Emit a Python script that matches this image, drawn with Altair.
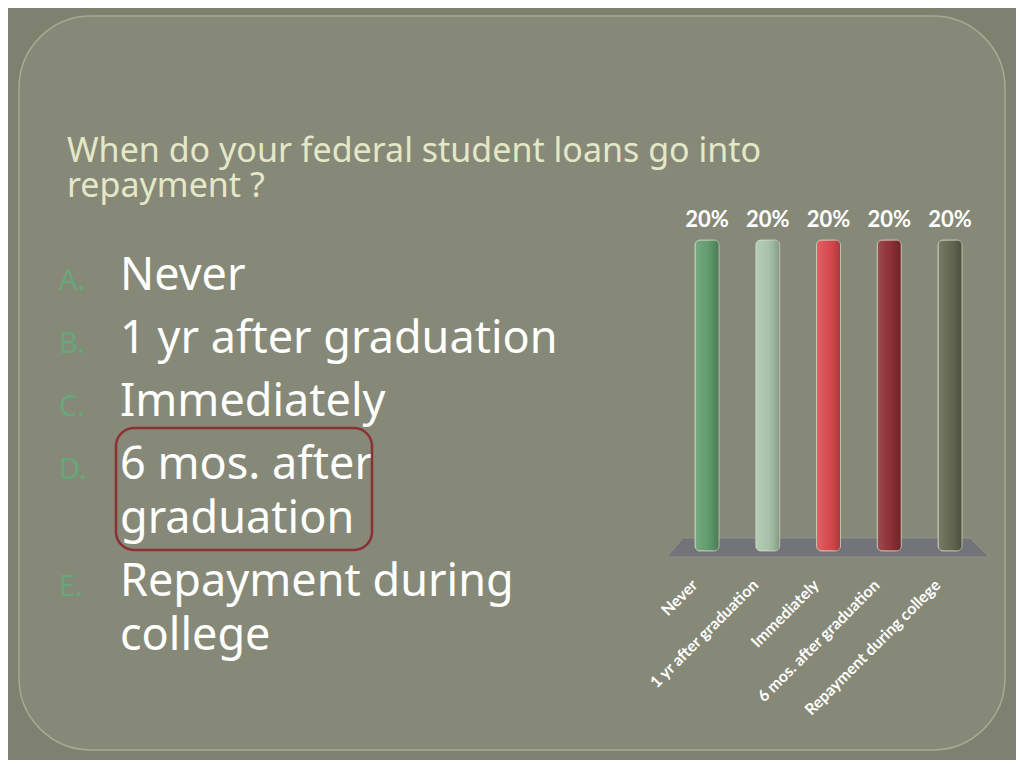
import altair as alt
import pandas as pd

# ---- data ----
categories = ["Never", "1 yr after graduation", "Immediately",
              "6 mos. after graduation", "Repayment during college"]
shares = [0.20, 0.20, 0.20, 0.20, 0.20]
letters = ["A.", "B.", "C.", "D.", "E."]
answer_lines = [["Never"], ["1 yr after graduation"], ["Immediately"],
                ["6 mos. after", "graduation"], ["Repayment during", "college"]]
title_lines = ["When do your federal student loans go into", "repayment ?"]
bar_colors = ["#5f9b6c", "#a8c3a9", "#d8474c", "#8d2d34", "#62654f"]

# ---- styling / layout ----
W, H = 1008, 752
BG = "#7e8170"
PANEL = "#868977"
FONT = "Noto Sans"

df = pd.DataFrame({"category": categories, "share": shares})
one = pd.DataFrame({"k": [0]})

layers = []

# slide frame (rounded panel)
layers.append(
    alt.Chart(one).mark_rect(cornerRadius=72, fill=PANEL, stroke="#a6aa92",
                             strokeWidth=1.5)
    .encode(x=alt.value(11), x2=alt.value(997), y=alt.value(8), y2=alt.value(742))
)

# title
layers.append(
    alt.Chart(one).mark_text(text=title_lines, align="left", baseline="alphabetic",
                             font=FONT, fontSize=34, lineHeight=35, color="#e4e8c8")
    .encode(x=alt.value(59), y=alt.value(154))
)

# answer list
y0 = 282
for letter, lines in zip(letters, answer_lines):
    layers.append(
        alt.Chart(one).mark_text(text=letter, align="left", baseline="alphabetic",
                                 font=FONT, fontSize=29, color="#66a77c")
        .encode(x=alt.value(51), y=alt.value(y0))
    )
    layers.append(
        alt.Chart(one).mark_text(text=lines, align="left", baseline="alphabetic",
                                 font=FONT, fontSize=45, lineHeight=54, color="#ffffff")
        .encode(x=alt.value(112), y=alt.value(y0))
    )
    y0 += 54 * (len(lines) - 1) + 63

# highlight box around answer D
layers.append(
    alt.Chart(one).mark_rect(cornerRadius=18, fillOpacity=0, stroke="#8c3035",
                             strokeWidth=2.5)
    .encode(x=alt.value(108), x2=alt.value(364), y=alt.value(420), y2=alt.value(542))
)

# 3-D floor of the bar chart (trapezoid symbol)
layers.append(
    alt.Chart(one).mark_point(
        shape="M -1 0.059 L -0.9 -0.059 L 0.882 -0.059 L 1 0.059 Z",
        filled=True, fill="#727479", stroke="#8e908a", strokeWidth=1, opacity=1,
        size=103684)
    .encode(x=alt.value(820), y=alt.value(539.5))
)

x_enc = alt.X("category:N", sort=categories,
              scale=alt.Scale(type="point", domain=categories, range=[699, 942], padding=0),
              axis=None)
y_enc = alt.Y("share:Q", scale=alt.Scale(domain=[0, 0.2], range=[543, 232], nice=False),
              axis=None)

bars = alt.Chart(df).mark_bar(size=24, cornerRadius=5, stroke="#d6dac3",
                              strokeWidth=1, strokeOpacity=0.7).encode(
    x=x_enc, y=y_enc,
    color=alt.Color("category:N", sort=categories,
                    scale=alt.Scale(domain=categories, range=bar_colors), legend=None),
)
layers.append(bars)

shade = alt.Chart(df).mark_bar(
    size=24, cornerRadius=5,
    fill={"gradient": "linear", "x1": 0, "x2": 1, "y1": 0, "y2": 0,
          "stops": [{"offset": 0, "color": "rgba(255,255,255,0.15)"},
                    {"offset": 0.4, "color": "rgba(255,255,255,0.04)"},
                    {"offset": 0.7, "color": "rgba(0,0,0,0.06)"},
                    {"offset": 1, "color": "rgba(0,0,0,0.22)"}]},
).encode(x=x_enc, y=y_enc)
layers.append(shade)

labels = alt.Chart(df).mark_text(font="Lato", fontWeight="bold", fontSize=22,
                                 color="#ffffff", baseline="bottom", dy=-8).encode(
    x=x_enc, y=y_enc, text=alt.Text("share:Q", format=".0%"))
layers.append(labels)

cat_labels = alt.Chart(df).mark_text(font="Lato", fontWeight="bold", fontSize=16,
                                     color="#ffffff", angle=315, align="right",
                                     baseline="middle", dx=-9, dy=-8).encode(
    x=x_enc, y=alt.value(574), text="category:N")
layers.append(cat_labels)

chart = alt.layer(*layers).properties(
    width=W, height=H, background=BG, padding=0, autosize="none"
).configure_view(stroke=None)

chart.save("out.html", embed_options={"renderer": "svg", "actions": False})
